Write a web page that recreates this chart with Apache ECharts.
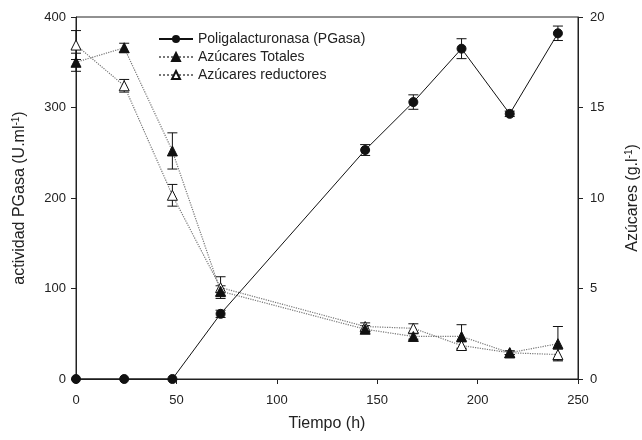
<!DOCTYPE html>
<html><head><meta charset="utf-8">
<script src="https://cdn.jsdelivr.net/npm/echarts@6/dist/echarts.min.js"></script>
<style>html,body{margin:0;padding:0;background:#fff}#c{width:642px;height:440px}</style>
</head><body><div id="c"></div>
<script>
const time = [0, 24, 48, 72, 144, 168, 192, 216, 240];
const pgasa = [0, 0, 0, 72, 253, 306, 365, 293, 382];
const pgasaErr = [0, 0, 0, 4, 6, 8, 11, 3, 8];
const totales = [17.5, 18.3, 12.6, 4.85, 2.75, 2.35, 2.35, 1.45, 1.95];
const totalesErr = [0.5, 0.25, 1.0, 0.3, 0.2, 0.15, 0.65, 0.1, 0.95];
const reductores = [18.45, 16.2, 10.15, 5.05, 2.9, 2.8, 1.85, 1.45, 1.35];
const reductoresErr = [0.8, 0.35, 0.6, 0.6, 0.2, 0.25, 0.2, 0.1, 0.3];
const xTicks = [0, 50, 100, 150, 200, 250];
const yLeftTicks = [0, 100, 200, 300, 400];
const yRightTicks = [0, 5, 10, 15, 20];

const FONT = 'Liberation Sans, Arial, sans-serif';
const pair = (ys) => time.map((t, i) => [t, ys[i]]);
const errData = (ys, es) => time.map((t, i) => [t, ys[i] - es[i], ys[i] + es[i], es[i]]);

function errSeries(ys, es, axis) {
  return {
    type: 'custom', yAxisIndex: axis, z: 1, silent: true,
    data: errData(ys, es).filter(d => d[3] > 0),
    renderItem: function (params, api) {
      const x = api.value(0);
      const lo = api.coord([x, api.value(1)]);
      const hi = api.coord([x, api.value(2)]);
      const w = 5;
      const st = { stroke: '#111', lineWidth: 1 };
      return { type: 'group', children: [
        { type: 'line', shape: { x1: lo[0], y1: lo[1], x2: hi[0], y2: hi[1] }, style: st },
        { type: 'line', shape: { x1: lo[0] - w, y1: lo[1], x2: lo[0] + w, y2: lo[1] }, style: st },
        { type: 'line', shape: { x1: hi[0] - w, y1: hi[1], x2: hi[0] + w, y2: hi[1] }, style: st }
      ]};
    }
  };
}

const axisCommon = {
  axisLine: { show: true, lineStyle: { color: '#222', width: 1 } },
  axisTick: { show: true, inside: false, length: 5, lineStyle: { color: '#222' } },
  axisLabel: { color: '#222', fontFamily: FONT, fontSize: 13 },
  splitLine: { show: false },
  nameTextStyle: { color: '#222', fontFamily: FONT, fontSize: 16 }
};
const richName = {
  n: { fontFamily: FONT, fontSize: 16, color: '#222' },
  s: { fontFamily: FONT, fontSize: 10, color: '#222', verticalAlign: 'top', padding: [0, 0, 7, 0] }
};

const chart = echarts.init(document.getElementById('c'));
chart.setOption({
  animation: false,
  backgroundColor: '#fff',
  grid: { left: 76, right: 64, top: 17, bottom: 61, show: true, borderColor: '#222', borderWidth: 1, containLabel: false, outerBoundsMode: 'none' },
  legend: {
    orient: 'vertical', left: 153, top: 27, itemGap: 4, itemWidth: 34, itemHeight: 10,
    textStyle: { color: '#222', fontFamily: FONT, fontSize: 14 },
    data: ['Poligalacturonasa (PGasa)', 'Azúcares Totales', 'Azúcares reductores']
  },
  xAxis: Object.assign({}, axisCommon, {
    type: 'value', min: 0, max: 250, interval: 50,
    name: 'Tiempo (h)', nameLocation: 'middle', nameGap: 37,
    axisLabel: Object.assign({}, axisCommon.axisLabel, { margin: 15, formatter: v => xTicks.includes(v) ? String(v) : '' })
  }),
  yAxis: [
    Object.assign({}, axisCommon, {
      type: 'value', min: 0, max: 400, interval: 100, position: 'left',
      axisLabel: Object.assign({}, axisCommon.axisLabel, { margin: 10, formatter: v => yLeftTicks.includes(v) ? String(v) : '' }),
      name: '{n|actividad PGasa (U.ml}{s|-1}{n|)}', nameLocation: 'middle', nameGap: 48, nameRotate: 90,
      nameTextStyle: { rich: richName }
    }),
    Object.assign({}, axisCommon, {
      type: 'value', min: 0, max: 20, interval: 5, position: 'right',
      axisLabel: Object.assign({}, axisCommon.axisLabel, { margin: 12, formatter: v => yRightTicks.includes(v) ? String(v) : '' }),
      name: '{n|Azúcares (g.l}{s|-1}{n|)}', nameLocation: 'middle', nameGap: 46, nameRotate: 90,
      nameTextStyle: { rich: richName }
    })
  ],
  series: [
    errSeries(pgasa, pgasaErr, 0),
    errSeries(totales, totalesErr, 1),
    errSeries(reductores, reductoresErr, 1),
    {
      name: 'Azúcares reductores', type: 'line', yAxisIndex: 1, z: 3,
      data: pair(reductores), symbol: 'triangle', symbolSize: 10,
      lineStyle: { type: 'dotted', color: '#777', width: 1.2 },
      itemStyle: { color: '#fff', borderColor: '#111', borderWidth: 1 }
    },
    {
      name: 'Azúcares Totales', type: 'line', yAxisIndex: 1, z: 4,
      data: pair(totales), symbol: 'triangle', symbolSize: 10,
      lineStyle: { type: 'dotted', color: '#777', width: 1.2 },
      itemStyle: { color: '#111', borderColor: '#111', borderWidth: 1 }
    },
    {
      name: 'Poligalacturonasa (PGasa)', type: 'line', yAxisIndex: 0, z: 5,
      data: pair(pgasa), symbol: 'circle', symbolSize: 9,
      lineStyle: { type: 'solid', color: '#111', width: 1 },
      itemStyle: { color: '#111', borderColor: '#111' }
    }
  ]
});
</script></body></html>
